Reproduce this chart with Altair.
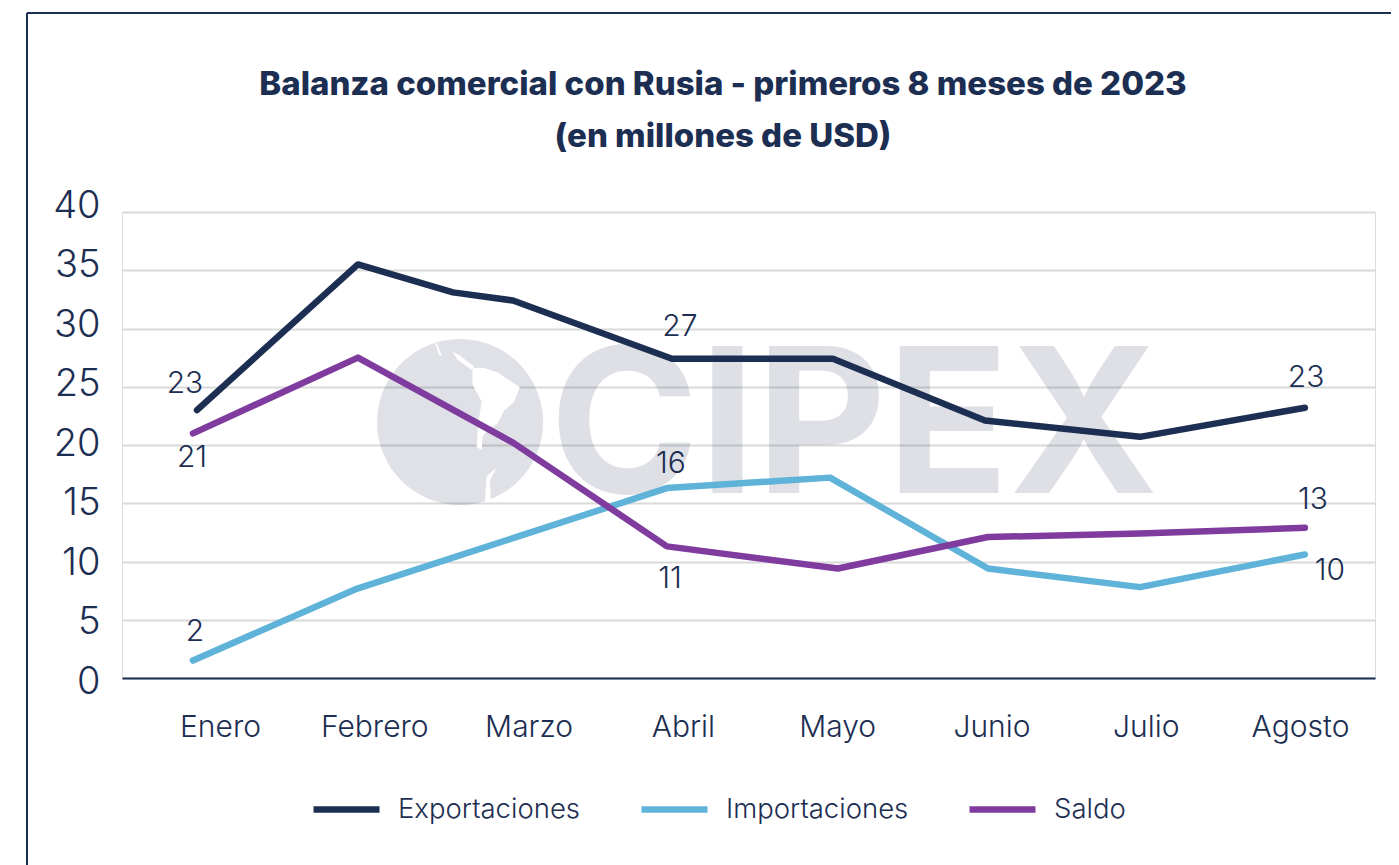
import altair as alt
import pandas as pd

NAVY = "#1c2e52"
BLUE = "#5fb3d9"
PURPLE = "#7f3c9e"
FONT = "Inter"

months = ["Enero", "Febrero", "Marzo", "Abril", "Mayo", "Junio", "Julio", "Agosto"]
series_names = ["Exportaciones", "Importaciones", "Saldo"]
title_lines = ["Balanza comercial con Rusia - primeros 8 meses de 2023", "(en millones de USD)"]

exp_x = [0.851, 1.894, 2.51, 2.899, 3.93, 4.973, 5.958, 6.963, 8.032]
exp_y = [23.0, 35.5, 33.1, 32.4, 27.4, 27.4, 22.1, 20.7, 23.2]
imp_x = [0.825, 1.875, 2.899, 3.897, 4.954, 5.978, 6.963, 8.032]
imp_y = [1.5, 7.6, 12.0, 16.3, 17.2, 9.4, 7.8, 10.6]
sal_x = [0.825, 1.894, 2.899, 3.897, 5.005, 5.978, 6.963, 8.032]
sal_y = [21.0, 27.5, 20.2, 11.3, 9.4, 12.1, 12.4, 12.9]

label_text = ["23", "21", "2", "27", "16", "11", "23", "13", "10"]
label_x = [0.773, 0.819, 0.838, 3.981, 3.923, 3.917, 8.039, 8.084, 8.194]
label_y = [25.24, 18.88, 3.95, 30.13, 18.37, 8.5, 25.75, 15.28, 9.18]

rows = []
for name, xs, ys in zip(series_names, [exp_x, imp_x, sal_x], [exp_y, imp_y, sal_y]):
    for i, (a, b) in enumerate(zip(xs, ys)):
        rows.append({"serie": name, "x": a, "y": b, "i": i})
df = pd.DataFrame(rows)
labels = pd.DataFrame({"t": label_text, "x": label_x, "y": label_y})

x_scale = alt.Scale(domain=[0.365, 8.486], nice=False, zero=False)
y_scale = alt.Scale(domain=[0, 40], nice=False)
month_expr = "[" + ",".join(f"'{m}'" for m in months) + "][datum.value-1]"

x_enc = alt.X("x:Q", scale=x_scale, axis=alt.Axis(
    values=list(range(1, 9)), labelExpr=month_expr, title=None, grid=False, ticks=False,
    domainColor=NAVY, domainWidth=2, labelColor=NAVY, labelFont=FONT, labelFontSize=30,
    labelFontWeight=300, labelPadding=34, labelAngle=0, labelFlush=False, labelOverlap=False))
y_enc = alt.Y("y:Q", scale=y_scale, axis=alt.Axis(
    values=list(range(0, 45, 5)), title=None, domain=False, ticks=False,
    grid=True, gridColor="#d9d9d9", gridWidth=2,
    labelColor=NAVY, labelFont=FONT, labelFontSize=38, labelFontWeight=300, labelPadding=22,
    labelOffset=alt.expr("4-0.25*datum.value")))

wm_color = "#1c2e52"
wm_op = 0.14
wm_text = alt.Chart(pd.DataFrame({"x": [3.136], "y": [15.9], "t": ["CIPEX"]})).mark_text(
    font=FONT, fontWeight=700, fontSize=202, align="left", baseline="alphabetic",
    color=wm_color, opacity=wm_op).encode(x=alt.X("x:Q", scale=x_scale), y=alt.Y("y:Q", scale=y_scale), text="t:N")

globe_df = pd.DataFrame({"x": [2.556], "y": [21.97]})
globe = alt.Chart(globe_df).mark_point(
    shape="circle", filled=True, size=27556, color=wm_color, opacity=wm_op).encode(
    x=alt.X("x:Q", scale=x_scale), y=alt.Y("y:Q", scale=y_scale))

land_path = (
    "M0.15,-0.65 L0.29,-0.65 L0.45,-0.6 L0.72,-0.42 L0.65,-0.24 L0.53,-0.14 L0.45,0.02 L0.33,0.1 "
    "L0.27,0.18 L0.26,0.34 L0.2,0.3 L0.22,0.02 L0.26,-0.25 L0.15,-0.45 Z "
    "M-0.09,-0.85 L-0.03,-0.75 L0.15,-0.62 L0.17,-0.67 L0,-0.8 Z "
    "M-0.3,-0.95 L-0.25,-0.8 L-0.22,-0.8 L-0.28,-0.95 Z "
    "M0.44,0.55 L0.32,0.65 L0.3,0.95 L0.37,0.95 L0.36,0.7 Z"
)
land = alt.Chart(globe_df).mark_point(
    shape=land_path, filled=True, size=27556, color="white", opacity=1).encode(
    x=alt.X("x:Q", scale=x_scale), y=alt.Y("y:Q", scale=y_scale))

lines = alt.Chart(df).mark_line(strokeWidth=6.5, strokeCap="round", strokeJoin="round").encode(
    x=x_enc, y=y_enc,
    order="i:Q",
    color=alt.Color("serie:N", scale=alt.Scale(domain=series_names, range=[NAVY, BLUE, PURPLE]),
        legend=alt.Legend(orient="none", legendX=188, legendY=561, direction="horizontal", columns=3,
            title=None, symbolType="stroke", symbolSize=4356, symbolStrokeWidth=6.5,
            labelFont=FONT, labelFontSize=27.5, labelFontWeight=300, labelColor=NAVY, labelOffset=15,
            columnPadding=47, gridAlign="none", symbolOpacity=1, labelLimit=300)))

text = alt.Chart(labels).mark_text(font=FONT, fontSize=30, fontWeight=300, color=NAVY).encode(
    x=alt.X("x:Q", scale=x_scale), y=alt.Y("y:Q", scale=y_scale), text="t:N")

title1 = alt.Chart(pd.DataFrame({"t": [title_lines[0]]})).mark_text(
    font=FONT, fontSize=33, fontWeight=800, color=NAVY, align="center", baseline="middle").encode(
    x=alt.value(601), y=alt.value(-127), text="t:N")
title2 = alt.Chart(pd.DataFrame({"t": [title_lines[1]]})).mark_text(
    font=FONT, fontSize=33, fontWeight=800, color=NAVY, align="center", baseline="middle").encode(
    x=alt.value(601), y=alt.value(-75), text="t:N")

frame_top = alt.Chart(pd.DataFrame({"a": [0]})).mark_rule(color=NAVY, strokeWidth=2).encode(
    x=alt.value(-95), x2=alt.value(1269), y=alt.value(-199))
frame_left = alt.Chart(pd.DataFrame({"a": [0]})).mark_rule(color=NAVY, strokeWidth=2).encode(
    x=alt.value(-95), y=alt.value(-199), y2=alt.value(660))

chart = alt.layer(wm_text, globe, land, lines, text, title1, title2, frame_top, frame_left).properties(
    width=1253, height=466,
    padding={"left": 114, "top": 204, "right": 16, "bottom": 187},
    autosize=alt.AutoSizeParams(type="none"),
).configure_view(strokeWidth=0, stroke="transparent").configure(background="white")

chart.save("out.html", embed_options={"renderer": "svg", "actions": False})
